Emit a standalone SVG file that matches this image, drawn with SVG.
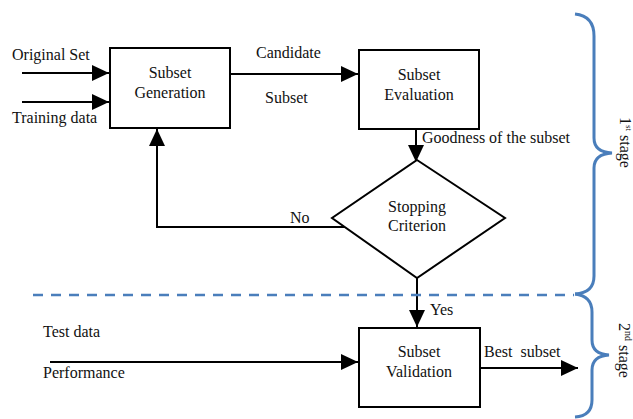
<svg xmlns="http://www.w3.org/2000/svg" width="633" height="419" viewBox="0 0 633 419" font-family="'Liberation Serif', 'DejaVu Serif', serif">
<style>
text{font-family:'Liberation Serif','DejaVu Serif',serif;font-size:16px;fill:#111}
.c{text-anchor:middle}
.box{fill:#fff;stroke:#000;stroke-width:2}
.ln{fill:none;stroke:#000;stroke-width:2}
.blue{fill:none;stroke:#4a7ebb;stroke-width:3}
</style>
<defs>
<marker id="ah" markerUnits="userSpaceOnUse" markerWidth="18" markerHeight="16" refX="17" refY="8" orient="auto">
<path d="M0,0 L17,8 L0,16 Z" fill="#000"/>
</marker>
</defs>
<g id="connectors">
<line class="ln" x1="22" y1="73" x2="109" y2="73" marker-end="url(#ah)"/>
<line class="ln" x1="22" y1="102" x2="109" y2="102" marker-end="url(#ah)"/>
<line class="ln" x1="230" y1="74" x2="358" y2="74" marker-end="url(#ah)"/>
<line class="ln" x1="416" y1="129" x2="416" y2="162" marker-end="url(#ah)"/>
<polyline class="ln" points="345,227 157,227 157,129" marker-end="url(#ah)"/>
<line class="ln" x1="417" y1="278" x2="417" y2="327" marker-end="url(#ah)"/>
<line class="ln" x1="50" y1="362" x2="358" y2="362" marker-end="url(#ah)"/>
<line class="ln" x1="480" y1="368" x2="578" y2="368" marker-end="url(#ah)"/>
</g>
<g id="labels">
<text x="12" y="60">Original Set</text>
<text x="12" y="123">Training data</text>
<text x="256" y="58">Candidate</text>
<text x="265" y="103">Subset</text>
<text x="422" y="143">Goodness of the subset</text>
<text x="290" y="223">No</text>
<text x="430" y="315">Yes</text>
<text x="43" y="337">Test data</text>
<text x="43" y="378">Performance</text>
<text x="484" y="357" xml:space="preserve">Best  subset</text>
</g>
<g id="subset-generation">
<rect class="box" x="110" y="48" width="120" height="80"/>
<text class="c" x="170" y="78">Subset</text>
<text class="c" x="170" y="98">Generation</text>
</g>
<g id="subset-evaluation">
<rect class="box" x="359" y="50" width="120" height="79"/>
<text class="c" x="419" y="80">Subset</text>
<text class="c" x="419" y="100">Evaluation</text>
</g>
<g id="stopping-criterion">
<polygon class="box" points="417,160 505,218 417,278 332,218"/>
<text class="c" x="417" y="212">Stopping</text>
<text class="c" x="417" y="231">Criterion</text>
</g>
<g id="subset-validation">
<rect class="box" x="359" y="328" width="121" height="79"/>
<text class="c" x="419" y="357">Subset</text>
<text class="c" x="419" y="377">Validation</text>
</g>
<g id="stages">
<line x1="33" y1="295" x2="574" y2="295" stroke="#4a7ebb" stroke-width="2.5" stroke-dasharray="10 8"/>
<path class="blue" d="M575,14 Q594,16 594,36 L594,138 Q594,152 612,153 Q594,154 594,168 L594,276 Q594,293 575,294"/>
<path class="blue" d="M575,294 Q592,296 592,312 L592,340 Q592,354 609,355 Q592,356 592,370 L592,400 Q592,416 575,417"/>
<text transform="translate(620,117) rotate(90)">1<tspan font-size="9" dy="-6">st</tspan><tspan dy="6"> stage</tspan></text>
<text transform="translate(619,323) rotate(90)">2<tspan font-size="10" dy="-6">nd</tspan><tspan dy="6"> stage</tspan></text>
</g>
</svg>
